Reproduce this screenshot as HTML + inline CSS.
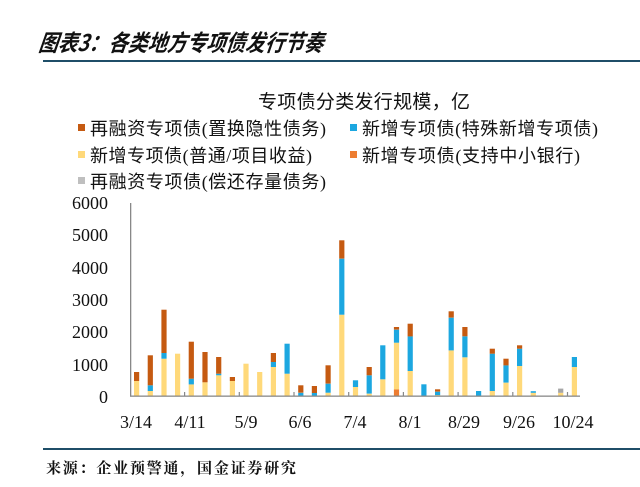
<!DOCTYPE html>
<html><head><meta charset="utf-8"><style>
body{margin:0;background:#fff;}
svg{display:block;font-family:"Liberation Serif","Noto Serif CJK SC",serif;}
</style></head><body>
<svg id="s" width="640" height="487" viewBox="0 0 640 487" xmlns="http://www.w3.org/2000/svg">
<rect width="640" height="487" fill="#fff"/>
<text x="38" y="51" font-family="'Noto Sans CJK SC',sans-serif" font-size="23" font-weight="bold" font-style="italic" fill="#111" transform="skewX(-8) translate(7,0)" textLength="285" lengthAdjust="spacingAndGlyphs">图表3：各类地方专项债发行节奏</text>
<rect x="43" y="60" width="597" height="2" fill="#1f4e68"/>
<text x="258" y="108" font-family="'Noto Sans CJK SC',sans-serif" font-size="19" fill="#111" textLength="212">专项债分类发行规模，亿</text>
<g font-family="'Liberation Serif','Noto Sans CJK SC',serif" font-size="18" fill="#111">
<rect x="78" y="124" width="7" height="7" fill="#C55A11"/><text x="90" y="135" textLength="236">再融资专项债(置换隐性债务)</text>
<rect x="350" y="124" width="7" height="7" fill="#1CA7E0"/><text x="362" y="135" textLength="236">新增专项债(特殊新增专项债)</text>
<rect x="78" y="151" width="7" height="7" fill="#FFD97A"/><text x="90" y="162" textLength="222">新增专项债(普通/项目收益)</text>
<rect x="350" y="151" width="7" height="7" fill="#ED7D31"/><text x="362" y="162" textLength="218">新增专项债(支持中小银行)</text>
<rect x="78" y="177" width="7" height="7" fill="#BFBFBF"/><text x="90" y="188" textLength="236">再融资专项债(偿还存量债务)</text>
</g>
<g font-size="18" fill="#111" text-anchor="end">
<text x="108" y="209">6000</text><text x="108" y="241">5000</text><text x="108" y="274">4000</text>
<text x="108" y="306">3000</text><text x="108" y="338">2000</text><text x="108" y="371">1000</text>
<text x="108" y="403">0</text>
</g>
<g font-size="18" fill="#111" text-anchor="middle">
<text x="136" y="428">3/14</text><text x="190" y="428">4/11</text><text x="246" y="428">5/9</text>
<text x="300" y="428">6/6</text><text x="355" y="428">7/4</text><text x="410" y="428">8/1</text>
<text x="464" y="428">8/29</text><text x="519" y="428">9/26</text><text x="573" y="428">10/24</text>
</g>
<g id="bars"></g>
<rect x="130" y="203" width="1.3" height="193" fill="#888"/>
<rect x="130" y="395.5" width="450" height="1.3" fill="#888"/>
<g id="ticks" fill="#888"></g>
<rect x="43" y="448" width="597" height="2" fill="#1f4e68"/>
<text x="46" y="473" font-family="'Noto Serif CJK SC',serif" font-size="15" font-weight="bold" fill="#111" textLength="250">来源：企业预警通，国金证券研究</text>
</svg>
<script>
var D=[[0,465,0,278],[0,155,175,930],[0,1156,175,1342],[0,1310,0,0],[0,361,176,1145],[0,423,0,939],[0,640,51,516],[0,464,0,124],[0,1001,0,0],[0,743,0,0],[0,898,155,278],[0,691,929,0],[0,0,100,230],[0,0,93,217],[0,103,279,568],[0,2518,1734,567],[0,279,206,0],[0,72,568,258],[0,516,1053,0],[206,1445,403,82],[0,774,1073,392],[0,0,361,0],[0,30,104,72],[0,1414,1011,196],[0,1197,650,289],[0,0,155,0],[0,155,1156,154],[0,413,537,206],[0,929,536,104],[0,100,50,0],[0,0,0,0],[0,100,0,0,130],[0,898,309,0]];
var C=["#ED7D31","#FFD97A","#1CA7E0","#C55A11","#A6A6A6"];
var g=document.getElementById('bars'),s='';
for(var i=0;i<D.length;i++){var x=136.6+13.68*i-2.6,y=396;for(var j=0;j<D[i].length;j++){var h=D[i][j]*0.0323;if(h>0){y-=h;s+='<rect x="'+x.toFixed(1)+'" y="'+y.toFixed(1)+'" width="5.2" height="'+h.toFixed(1)+'" fill="'+C[j]+'"/>';}}}
g.innerHTML=s;
var t='';for(var k=0;k<8;k++){var tx=184+54.7*k;t+='<rect x="'+tx.toFixed(1)+'" y="392" width="1.2" height="4"/>';}
document.getElementById('ticks').innerHTML=t;
</script>
</body></html>
